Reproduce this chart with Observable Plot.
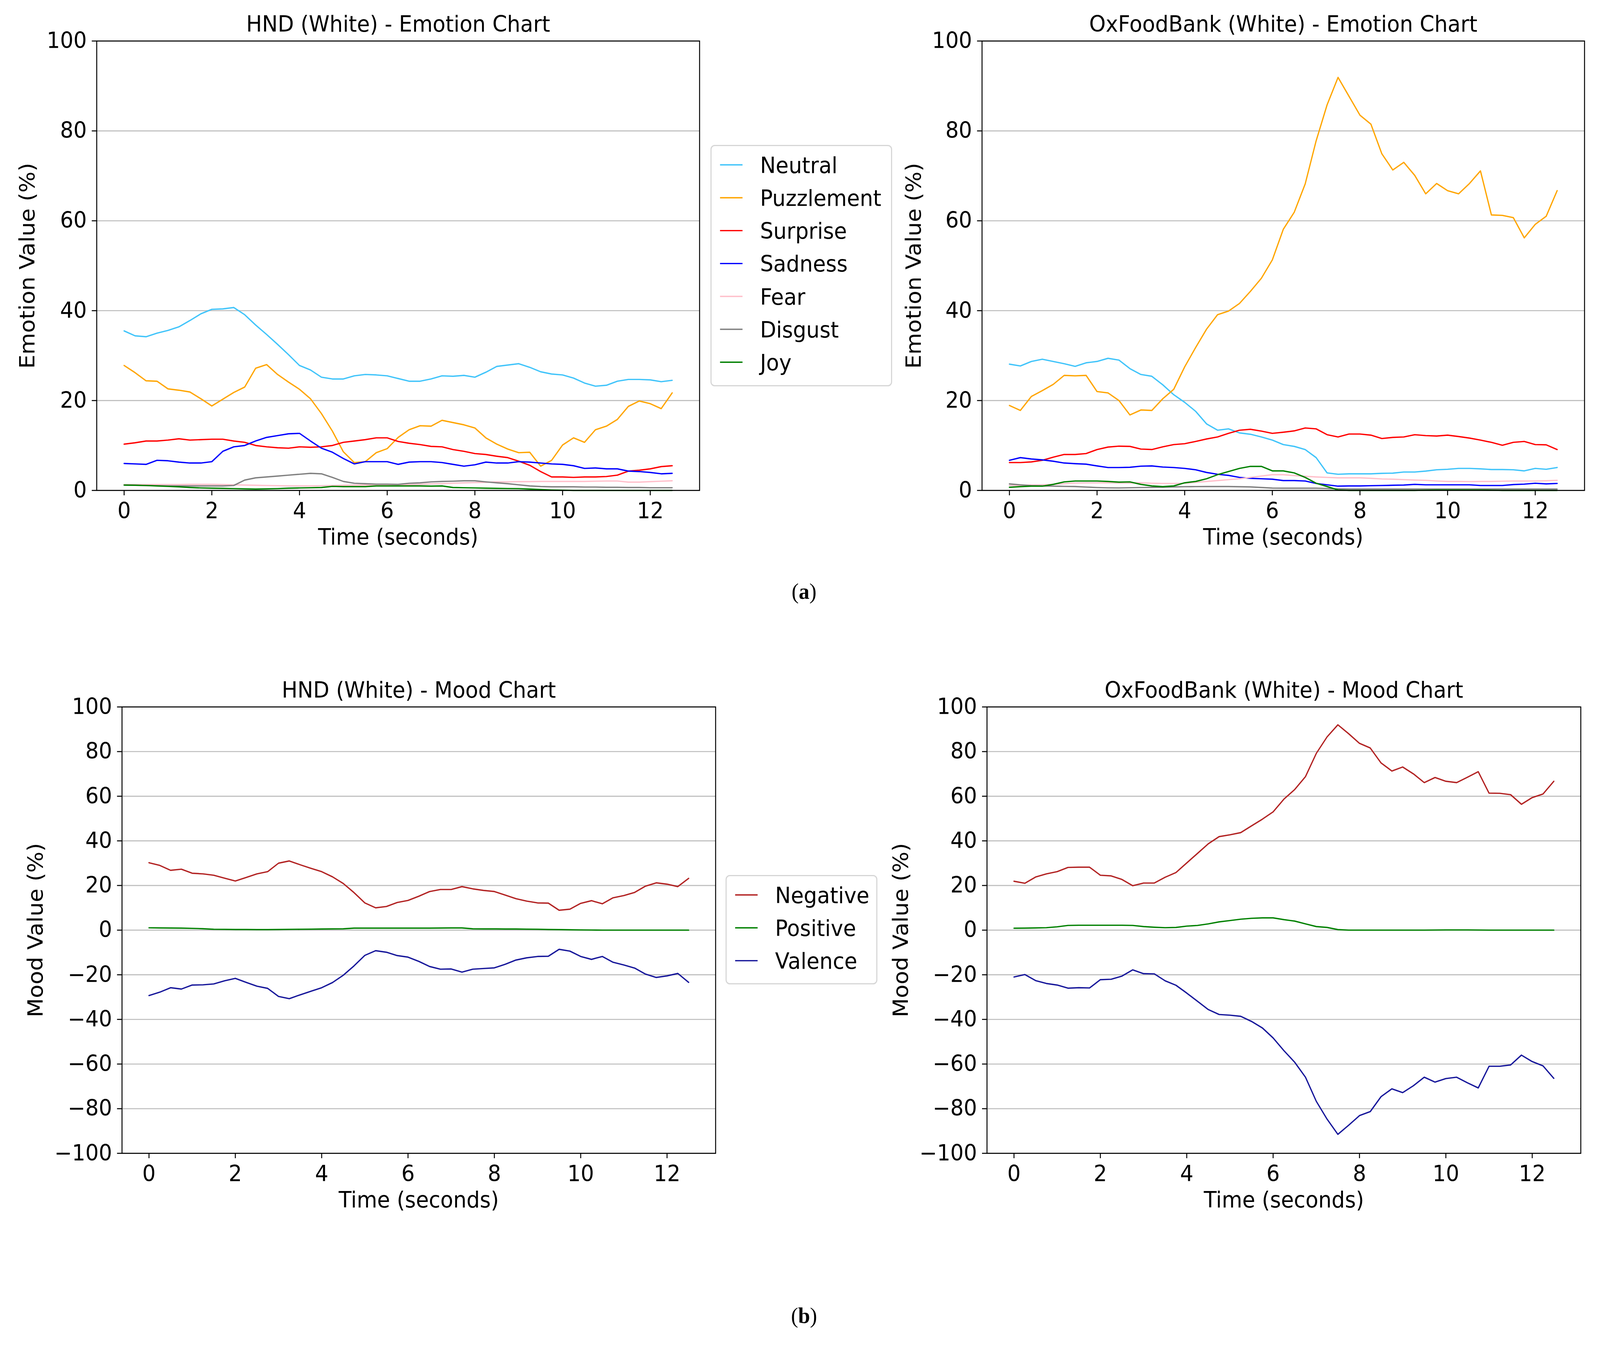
<!DOCTYPE html>
<html><head><meta charset="utf-8">
<script src="https://cdn.jsdelivr.net/npm/d3@7"></script>
<script src="https://cdn.jsdelivr.net/npm/@observablehq/plot@0.6"></script>
<style>
html,body{margin:0;padding:0;background:#fff;overflow:hidden;}
#page{position:relative;width:4342px;height:3456px;background:#fff;overflow:hidden;font-family:"DejaVu Sans";transform-origin:0 0;}
.box{position:absolute;}
.panel{position:absolute;font-family:"Liberation Serif",serif;font-size:58px;line-height:58px;text-align:center;width:300px;color:#000;}
</style></head><body><div id="page"></div>
<script>
// ---------- data ----------
const times = [0,0.25,0.5,0.75,1,1.25,1.5,1.75,2,2.25,2.5,2.75,3,3.25,3.5,3.75,4,4.25,4.5,4.75,5,5.25,5.5,5.75,6,6.25,6.5,6.75,7,7.25,7.5,7.75,8,8.25,8.5,8.75,9,9.25,9.5,9.75,10,10.25,10.5,10.75,11,11.25,11.5,11.75,12,12.25,12.5];
const xTicks = [0,2,4,6,8,10,12];
const emotionTicks = [0,20,40,60,80,100];
const moodTicks = [-100,-80,-60,-40,-20,0,20,40,60,80,100];

const emotionNames = ["Neutral","Puzzlement","Surprise","Sadness","Fear","Disgust","Joy"];
const emotionColors = ["#40c4fa","orange","red","blue","pink","gray","green"];
const moodNames = ["Negative","Positive","Valence"];
const moodColors = ["#b22222","#008000","#16169a"];

// HND (White) - Emotion
const hndNeutral = [35.5,34.4,34.2,35.0,35.6,36.4,37.8,39.3,40.3,40.4,40.7,39.1,36.8,34.7,32.5,30.2,27.8,26.8,25.2,24.8,24.8,25.5,25.8,25.7,25.5,24.9,24.3,24.3,24.8,25.5,25.4,25.6,25.2,26.3,27.6,27.9,28.2,27.4,26.4,25.9,25.7,25.0,23.9,23.2,23.4,24.3,24.7,24.7,24.6,24.2,24.5];
const hndPuzzlement = [27.8,26.2,24.4,24.3,22.6,22.3,21.9,20.4,18.8,20.3,21.8,23.0,27.2,28.0,25.8,24.1,22.5,20.4,17.1,13.2,8.6,6.2,6.4,8.4,9.3,11.8,13.5,14.4,14.3,15.6,15.1,14.6,13.9,11.7,10.3,9.2,8.4,8.5,5.4,6.7,10.1,11.7,10.7,13.5,14.3,15.8,18.7,19.9,19.3,18.2,21.7];
const hndSurprise = [10.3,10.6,11.0,11.0,11.2,11.5,11.2,11.3,11.4,11.4,11.0,10.7,10.0,9.7,9.5,9.4,9.7,9.6,9.7,10.0,10.7,11.0,11.3,11.7,11.7,10.9,10.5,10.2,9.8,9.7,9.1,8.7,8.2,8.0,7.6,7.3,6.5,5.6,4.2,3.0,3.0,2.9,3.0,3.0,3.1,3.4,4.3,4.5,4.8,5.3,5.5];
const hndSadness = [6.0,5.9,5.8,6.7,6.6,6.3,6.1,6.1,6.4,8.7,9.7,10.0,11.0,11.8,12.2,12.6,12.7,11.0,9.4,8.5,7.1,5.9,6.4,6.4,6.4,5.8,6.3,6.4,6.4,6.2,5.8,5.4,5.7,6.3,6.1,6.1,6.4,6.3,6.1,5.9,5.8,5.5,4.9,5.0,4.8,4.8,4.3,4.2,4.0,3.7,3.8];
const hndFear = [1.3,1.3,1.3,1.3,1.3,1.3,1.35,1.35,1.35,1.3,1.25,1.2,1.15,1.1,1.05,1.0,1.0,1.0,1.05,1.1,1.15,1.2,1.2,1.2,1.2,1.25,1.3,1.35,1.45,1.5,1.6,1.7,1.75,1.8,1.9,1.9,1.95,1.95,2.0,2.0,2.0,2.0,2.0,2.05,2.1,2.1,1.85,1.85,1.95,2.05,2.15];
const hndDisgust = [1.2,1.15,1.1,1.05,1.0,1.0,1.0,1.0,1.0,1.0,1.1,2.3,2.8,3.0,3.2,3.4,3.6,3.8,3.7,2.9,2.0,1.6,1.5,1.4,1.4,1.35,1.6,1.7,1.9,2.0,2.05,2.15,2.15,1.9,1.7,1.5,1.25,1.0,0.87,0.8,0.8,0.8,0.75,0.75,0.7,0.7,0.65,0.65,0.6,0.6,0.6];
const hndJoy = [1.2,1.15,1.1,1.0,0.9,0.8,0.65,0.55,0.5,0.45,0.4,0.35,0.3,0.35,0.4,0.5,0.55,0.6,0.65,0.9,0.85,0.85,0.85,1.0,1.0,1.0,1.0,1.0,0.95,1.0,0.65,0.6,0.55,0.5,0.45,0.42,0.4,0.3,0.2,0.1,0.05,0,0,0,0,0,0,0,0,0,0];

// OxFoodBank (White) - Emotion
const oxNeutral = [28.1,27.7,28.7,29.2,28.7,28.2,27.6,28.4,28.7,29.4,29.0,27.1,25.8,25.4,23.5,21.3,19.6,17.6,14.8,13.4,13.7,12.8,12.5,11.9,11.2,10.2,9.8,9.1,7.3,3.9,3.6,3.7,3.7,3.7,3.8,3.85,4.1,4.1,4.3,4.6,4.7,4.9,4.9,4.8,4.65,4.65,4.6,4.35,4.9,4.7,5.1];
const oxPuzzlement = [18.9,17.8,20.9,22.2,23.6,25.6,25.5,25.6,22.0,21.7,20.0,16.8,17.9,17.8,20.4,22.5,27.5,31.8,35.9,39.1,39.9,41.6,44.3,47.2,51.3,58.1,61.9,68.2,77.8,85.8,91.9,87.7,83.5,81.5,74.9,71.3,73.0,70.1,66.0,68.3,66.7,66.0,68.3,71.1,61.3,61.2,60.7,56.2,59.2,61.0,66.7];
const oxSurprise = [6.2,6.2,6.35,6.7,7.4,8.0,8.0,8.2,9.1,9.65,9.85,9.8,9.2,9.1,9.7,10.2,10.4,10.9,11.45,11.9,12.7,13.4,13.6,13.2,12.7,12.95,13.25,13.9,13.7,12.4,11.9,12.55,12.55,12.3,11.55,11.8,11.9,12.4,12.2,12.1,12.3,12.0,11.65,11.2,10.7,10.05,10.7,10.9,10.2,10.15,9.1];
const oxSadness = [6.7,7.3,7.0,6.8,6.5,6.1,5.95,5.85,5.45,5.1,5.1,5.15,5.4,5.45,5.2,5.1,4.9,4.6,4.0,3.6,3.35,2.9,2.7,2.6,2.5,2.2,2.2,2.1,1.55,1.25,0.95,1.0,1.0,1.05,1.1,1.15,1.2,1.35,1.25,1.25,1.25,1.25,1.25,1.1,1.1,1.1,1.3,1.4,1.6,1.45,1.55];
const oxFear = [1.1,1.15,1.2,1.25,1.35,1.5,1.65,1.7,1.7,1.7,1.65,1.65,1.7,1.6,1.55,1.55,1.6,1.8,2.0,2.2,2.4,2.6,2.9,3.2,3.5,3.5,3.3,3.15,3.0,2.9,2.8,2.8,2.8,2.7,2.55,2.5,2.4,2.3,2.25,2.1,2.0,2.0,1.97,2.0,2.0,2.05,2.1,2.1,2.1,2.15,2.25];
const oxDisgust = [1.45,1.25,1.07,1.0,0.95,0.9,0.87,0.75,0.64,0.58,0.55,0.6,0.64,0.68,0.72,0.78,0.84,0.86,0.87,0.87,0.87,0.82,0.78,0.65,0.52,0.5,0.5,0.5,0.5,0.42,0.35,0.3,0.3,0.3,0.3,0.3,0.3,0.3,0.3,0.3,0.3,0.3,0.3,0.3,0.3,0.3,0.3,0.3,0.3,0.3,0.3];
const oxJoy = [0.7,0.85,0.95,0.95,1.35,1.9,2.1,2.1,2.1,2.0,1.85,1.9,1.35,1.0,0.85,1.0,1.7,2.0,2.6,3.5,4.2,4.9,5.35,5.35,4.35,4.35,3.9,2.9,1.6,0.87,0.1,0,0,0,0,0,0,0,0.05,0.1,0.1,0.1,0.1,0.1,0.05,0,0,0,0,0,0];

// HND (White) - Mood
const hndNegative = [30.2,29.0,26.8,27.3,25.5,25.2,24.6,23.3,22.0,23.6,25.2,26.2,30.0,31.0,29.3,27.7,26.2,23.9,20.9,16.8,12.2,10.0,10.6,12.4,13.3,15.2,17.3,18.2,18.2,19.5,18.5,17.8,17.3,15.7,14.1,13.0,12.2,12.1,8.9,9.4,12.0,13.2,11.8,14.5,15.5,16.9,19.7,21.2,20.6,19.5,23.2];
const hndPositive = [1.05,1.0,0.95,0.9,0.8,0.65,0.4,0.35,0.3,0.3,0.25,0.25,0.3,0.35,0.4,0.45,0.5,0.55,0.6,0.9,0.9,0.9,0.9,0.9,0.9,0.9,0.9,0.95,1.0,1.0,0.6,0.55,0.55,0.5,0.5,0.45,0.4,0.3,0.25,0.15,0.1,0.05,0,0,0,0,0,0,0,0,0];
const hndValence = [-29.3,-27.8,-25.8,-26.4,-24.6,-24.5,-24.1,-22.7,-21.6,-23.4,-25.1,-26.1,-29.7,-30.7,-29.0,-27.4,-25.8,-23.5,-20.2,-16.0,-11.3,-9.2,-9.9,-11.4,-12.1,-14.0,-16.3,-17.5,-17.4,-18.8,-17.5,-17.2,-16.9,-15.3,-13.4,-12.4,-11.8,-11.7,-8.6,-9.4,-11.8,-13.1,-11.8,-14.4,-15.6,-17.0,-19.7,-21.2,-20.5,-19.4,-23.4];

// OxFoodBank (White) - Mood
const oxNegative = [21.9,21.0,23.8,25.2,26.2,28.1,28.2,28.2,24.6,24.3,22.7,19.9,21.1,21.1,23.7,25.8,30.1,34.4,38.7,41.9,42.7,43.7,46.7,49.7,53.0,58.7,63.0,68.8,79.2,86.6,92.0,88.0,83.7,81.6,74.9,71.3,73.1,70.0,66.1,68.4,66.7,66.1,68.5,71.0,61.4,61.3,60.7,56.4,59.4,61.0,66.7];
const oxPositive = [0.85,0.9,1.0,1.1,1.5,2.1,2.2,2.2,2.2,2.2,2.2,2.1,1.6,1.3,1.1,1.2,1.8,2.1,2.8,3.7,4.3,4.9,5.3,5.5,5.5,4.7,4.05,2.8,1.6,1.2,0.25,0,0,0,0,0,0,0,0,0.05,0.1,0.1,0.1,0.05,0,0,0,0,0,0,0];
const oxValence = [-21.0,-19.9,-22.6,-23.9,-24.6,-26.0,-25.8,-25.9,-22.2,-22.0,-20.6,-17.8,-19.5,-19.6,-22.7,-24.7,-28.2,-31.9,-35.6,-37.8,-38.1,-38.6,-40.9,-43.8,-48.3,-54.0,-59.2,-65.9,-76.7,-84.7,-91.5,-87.4,-83.1,-81.3,-74.6,-71.1,-72.8,-69.7,-65.9,-68.1,-66.5,-65.9,-68.4,-70.7,-61.0,-61.0,-60.4,-56.0,-58.9,-60.8,-66.4];

// ---------- drawing ----------
const page = document.getElementById("page");
const FS = 57;
const fmt = d => d < 0 ? "\u2212" + Math.abs(d) : String(d);

function chart(cfg) {
  const rows = [];
  cfg.names.forEach((n, i) => cfg.values[i].forEach((v, j) => rows.push({t: times[j], v, s: n})));
  const svg = Plot.plot({
    width: cfg.box.w, height: cfg.box.h,
    marginLeft: cfg.frame.l - cfg.box.x,
    marginRight: cfg.box.x + cfg.box.w - cfg.frame.r,
    marginTop: cfg.frame.t - cfg.box.y,
    marginBottom: cfg.box.y + cfg.box.h - cfg.frame.b,
    style: {fontFamily: "DejaVu Sans", fontSize: FS + "px", background: "transparent", color: "black", overflow: "visible"},
    x: {domain: [-0.625, 13.125]},
    y: {domain: cfg.yDomain},
    color: {domain: cfg.names, range: cfg.colors},
    marks: [
      Plot.ruleY(cfg.yTicks, {stroke: "#bdbdbd", strokeWidth: 2.6}),
      Plot.line(rows, {x: "t", y: "v", z: "s", stroke: "s", strokeWidth: 3.4}),
      Plot.frame({stroke: "black", strokeWidth: 2.6}),
      Plot.axisX({ticks: xTicks, tickSize: 13, tickPadding: 18, fontSize: FS, tickFormat: fmt, label: null, strokeWidth: 2.6}),
      Plot.axisY({ticks: cfg.yTicks, tickSize: 13, tickPadding: 14, fontSize: FS, tickFormat: fmt, label: null, strokeWidth: 2.6}),
      Plot.text([cfg.title], {frameAnchor: "top", lineAnchor: "middle", textAnchor: "middle", dy: -42, fontSize: FS, text: d => d, fill: "black"}),
      Plot.text(["Time (seconds)"], {frameAnchor: "bottom", lineAnchor: "middle", textAnchor: "middle", dy: 120, fontSize: FS, text: d => d, fill: "black"}),
      Plot.text([cfg.ylabel], {frameAnchor: "left", lineAnchor: "middle", textAnchor: "middle", dx: cfg.ylabelDx, rotate: -90, fontSize: FS, text: d => d, fill: "black"})
    ]
  });
  const div = document.createElement("div");
  div.className = "box";
  div.style.left = cfg.box.x + "px";
  div.style.top = cfg.box.y + "px";
  div.appendChild(svg);
  page.appendChild(div);
}

function legend(x, y, w, h, names, colors) {
  const svg = d3.create("svg").attr("width", w).attr("height", h)
    .style("position", "absolute").style("left", x + "px").style("top", y + "px").style("overflow", "visible");
  svg.append("rect").attr("x", 1.5).attr("y", 1.5).attr("width", w - 3).attr("height", h - 3)
    .attr("rx", 10).attr("fill", "white").attr("stroke", "#d6d6d6").attr("stroke-width", 3);
  names.forEach((n, i) => {
    const cy = 51 + i * 84.2;
    svg.append("line").attr("x1", 26).attr("x2", 87).attr("y1", cy).attr("y2", cy)
      .attr("stroke", colors[i]).attr("stroke-width", 3.4);
    svg.append("text").attr("x", 134.5).attr("y", cy + 20.8).attr("font-family", "DejaVu Sans")
      .attr("font-size", FS).attr("fill", "black").text(n);
  });
  page.appendChild(svg.node());
}

chart({box: {x: 0, y: 0, w: 1960, h: 1460}, frame: {l: 262, r: 1898, t: 104.5, b: 1255},
  names: emotionNames, colors: emotionColors,
  values: [hndNeutral, hndPuzzlement, hndSurprise, hndSadness, hndFear, hndDisgust, hndJoy],
  yDomain: [0, 100], yTicks: emotionTicks, title: "HND (White) - Emotion Chart", ylabel: "Emotion Value (%)", ylabelDx: -187});
chart({box: {x: 2300, y: 0, w: 2042, h: 1460}, frame: {l: 2664.5, r: 4299.5, t: 104.5, b: 1255},
  names: emotionNames, colors: emotionColors,
  values: [oxNeutral, oxPuzzlement, oxSurprise, oxSadness, oxFear, oxDisgust, oxJoy],
  yDomain: [0, 100], yTicks: emotionTicks, title: "OxFoodBank (White) - Emotion Chart", ylabel: "Emotion Value (%)", ylabelDx: -184.5});
chart({box: {x: 0, y: 1690, w: 1960, h: 1460}, frame: {l: 330.6, r: 1941.5, t: 1809.3, b: 2952},
  names: moodNames, colors: moodColors,
  values: [hndNegative, hndPositive, hndValence],
  yDomain: [-100, 100], yTicks: moodTicks, title: "HND (White) - Mood Chart", ylabel: "Mood Value (%)", ylabelDx: -234});
chart({box: {x: 2300, y: 1690, w: 2042, h: 1460}, frame: {l: 2678, r: 4289.4, t: 1809.3, b: 2952},
  names: moodNames, colors: moodColors,
  values: [oxNegative, oxPositive, oxValence],
  yDomain: [-100, 100], yTicks: moodTicks, title: "OxFoodBank (White) - Mood Chart", ylabel: "Mood Value (%)", ylabelDx: -233});

legend(1928, 371, 493, 618, emotionNames, emotionColors);
legend(1969, 2240, 412, 280, moodNames, moodColors);

function panel(label, cy) {
  const d = document.createElement("div");
  d.className = "panel";
  d.style.left = (2182 - 150) + "px";
  d.style.top = (cy - 34) + "px";
  d.innerHTML = "(<b>" + label + "</b>)";
  page.appendChild(d);
}
panel("a", 1519);
panel("b", 3373);

// fit the 4342x3456 layout onto the actual viewport
const sx = window.innerWidth / 4342, sy = window.innerHeight / 3456;
page.style.transform = "scale(" + sx + "," + sy + ")";
</script>
</body></html>
